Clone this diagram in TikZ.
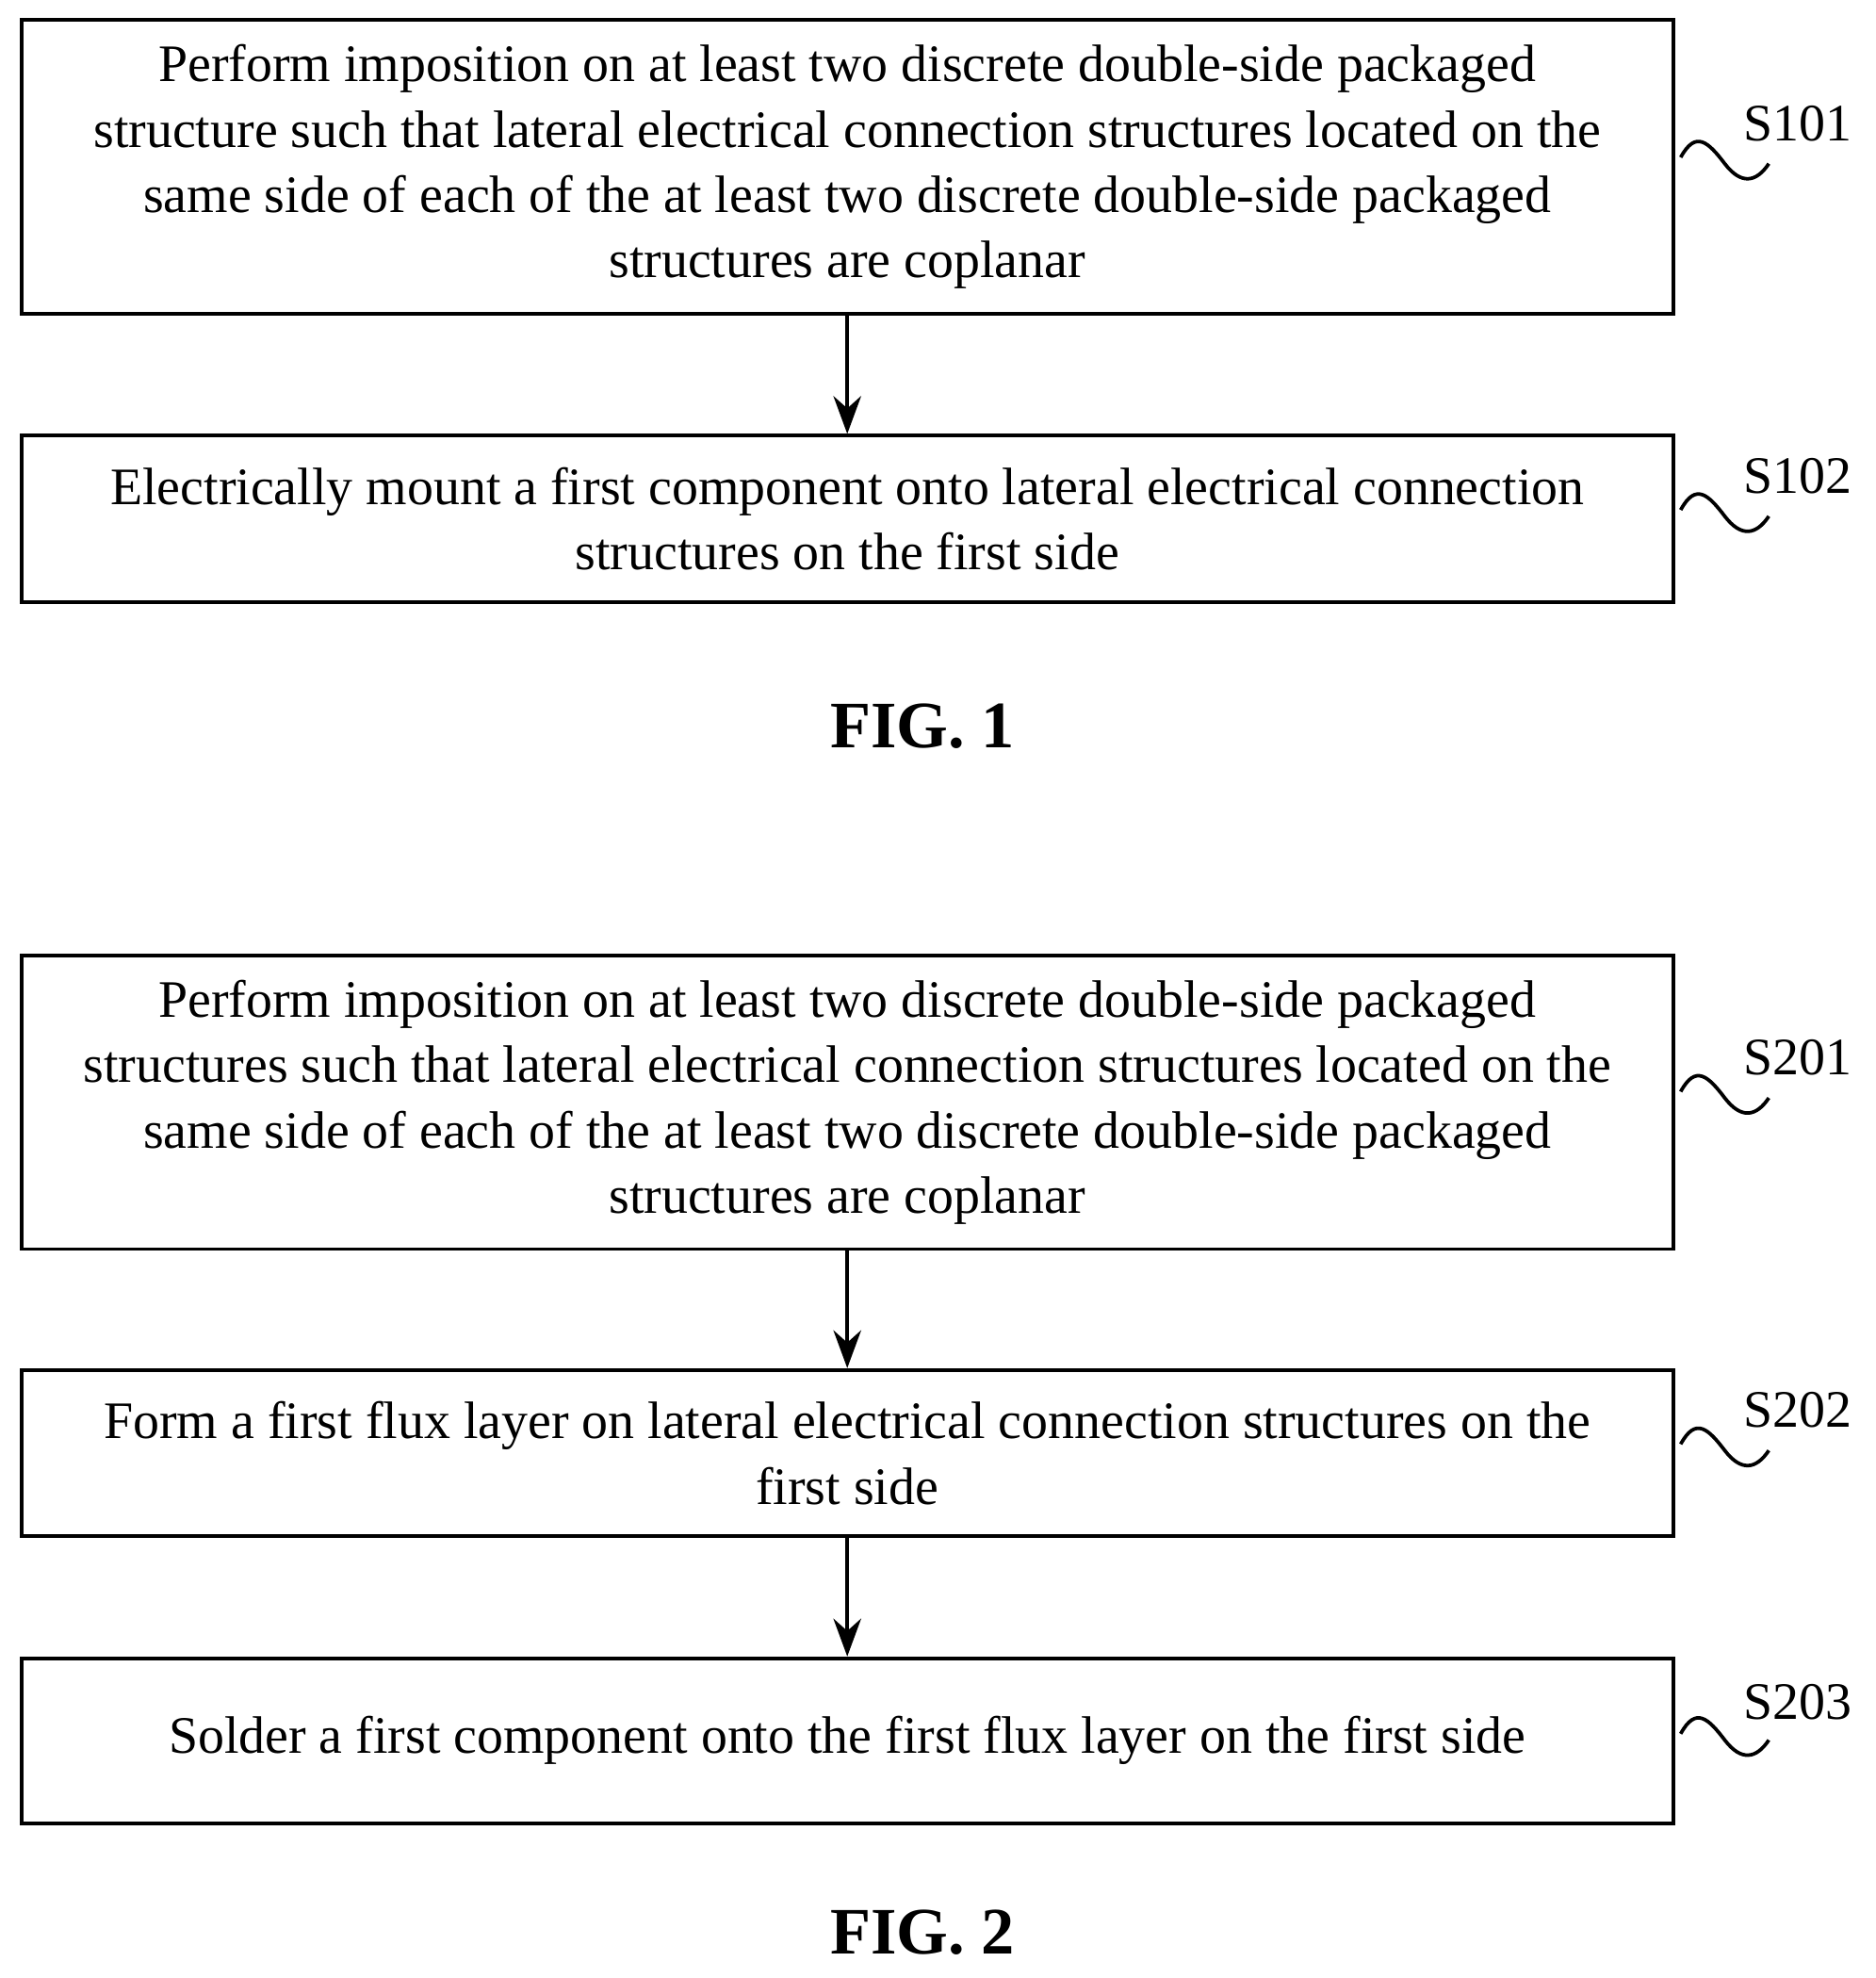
\documentclass[tikz,border=0pt]{standalone}
\usepackage{fontspec}
\setmainfont{Liberation Serif}
\usetikzlibrary{arrows.meta, positioning}
\tikzset{
  stepbox/.style={draw, thick, rectangle, minimum width=13.12cm, align=center, font=\fontsize{11.9}{14.8}\selectfont, inner sep=0pt},
  tag/.style={font=\fontsize{11.9}{14}\selectfont},
  arrow/.style={thick, -{Stealth[length=3mm,width=2.2mm]}},
  figlabel/.style={font=\fontsize{15}{18}\selectfont\bfseries}
}
\newcommand{\squig}[2]{\draw[thick] (#1,#2) .. controls (#1+0.12,#2+0.22) and (#1+0.22,#2+0.12) .. (#1+0.35,#2-0.05) .. controls (#1+0.48,#2-0.22) and (#1+0.6,#2-0.2) .. (#1+0.7,#2-0.05);}
\begin{document}
\begin{tikzpicture}
\useasboundingbox (0,0) rectangle (14.9,-15.71);
% FIG. 1
\node[stepbox, minimum height=2.33cm] (s101) at (6.73,-1.325) {Perform imposition on at least two discrete double-side packaged\\ structure such that lateral electrical connection structures located on the\\ same side of each of the at least two discrete double-side packaged\\ structures are coplanar};
\node[stepbox, minimum height=1.32cm] (s102) at (6.73,-4.12) {Electrically mount a first component onto lateral electrical connection\\ structures on the first side};
\draw[arrow] (s101) -- (s102);
\node[tag] (t101) at (14.28,-0.98) {S101};
\node[tag] (t102) at (14.28,-3.78) {S102};
\squig{13.35}{-1.25}
\squig{13.35}{-4.05}
\node[figlabel] (fig1) at (7.33,-5.77) {FIG. 1};
% FIG. 2
\node[stepbox, minimum height=2.33cm] (s201) at (6.73,-8.755) {Perform imposition on at least two discrete double-side packaged\\ structures such that lateral electrical connection structures located on the\\ same side of each of the at least two discrete double-side packaged\\ structures are coplanar};
\node[stepbox, minimum height=1.32cm] (s202) at (6.73,-11.54) {Form a first flux layer on lateral electrical connection structures on the\\ first side};
\node[stepbox, minimum height=1.31cm] (s203) at (6.73,-13.825) {Solder a first component onto the first flux layer on the first side};
\draw[arrow] (s201) -- (s202);
\draw[arrow] (s202) -- (s203);
\node[tag] (t201) at (14.28,-8.40) {S201};
\node[tag] (t202) at (14.28,-11.20) {S202};
\node[tag] (t203) at (14.28,-13.52) {S203};
\squig{13.35}{-8.67}
\squig{13.35}{-11.47}
\squig{13.35}{-13.77}
\node[figlabel] (fig2) at (7.33,-15.35) {FIG. 2};
\end{tikzpicture}
\end{document}
